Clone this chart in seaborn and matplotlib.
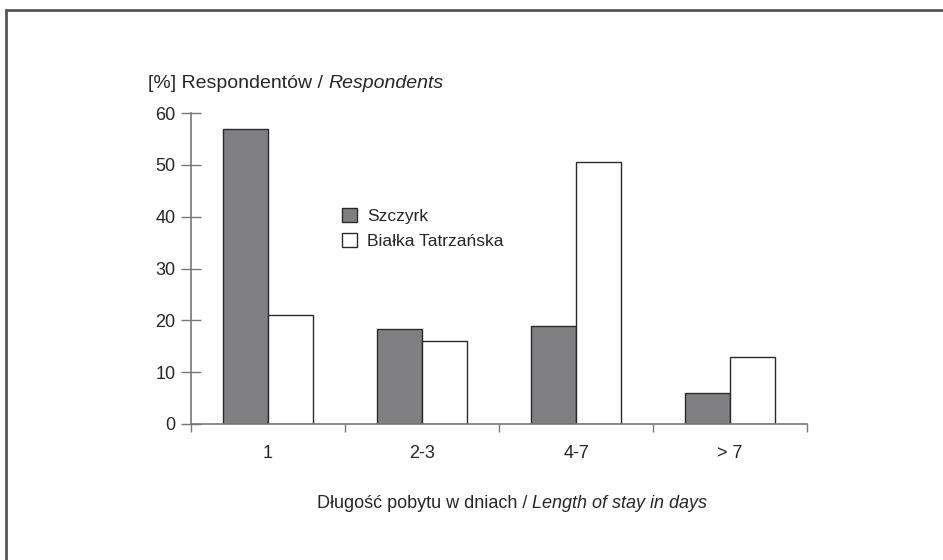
import pandas as pd
import matplotlib.pyplot as plt
import matplotlib.lines as mlines
import seaborn as sns

# data
stay = ["1", "2-3", "4-7", "> 7"]
szczyrk = [57, 18.3, 19, 6]
bialka = [21, 16, 50.5, 13]
resorts = ["Szczyrk", "Białka Tatrzańska"]

df = pd.DataFrame({
    "stay": stay * 2,
    "resort": [resorts[0]] * len(stay) + [resorts[1]] * len(stay),
    "pct": szczyrk + bialka,
})

sns.set_style("white")
plt.rcParams["font.family"] = ["Liberation Sans", "DejaVu Sans"]

W, H = 943, 560
fig = plt.figure(figsize=(W / 100, H / 100), dpi=100)
ax = fig.add_axes([191 / W, 1 - 424 / H, (807 - 191) / W, (424 - 113) / H])

sns.barplot(data=df, x="stay", y="pct", hue="resort", order=stay, hue_order=resorts,
            palette={resorts[0]: "#808083", resorts[1]: "white"},
            width=0.578, edgecolor="#2a2a2a", linewidth=1.0, ax=ax, legend=True)

ax.set_xlim(-0.5, len(stay) - 0.5)
ax.set_ylim(0, 60)
ax.set_yticks(range(0, 61, 10))
ax.tick_params(axis="y", left=True, direction="inout", length=14, width=1, color="#777777",
               labelsize=13, pad=4)
ax.tick_params(axis="x", which="major", bottom=False, length=0, labelsize=13, pad=15)
ax.set_xticks([i - 0.5 for i in range(len(stay) + 1)], minor=True)
ax.tick_params(axis="x", which="minor", bottom=True, direction="out", length=6, width=1,
               color="#777777")
for side in ["top", "right"]:
    ax.spines[side].set_visible(False)
for side in ["left", "bottom"]:
    ax.spines[side].set_color("#777777")
    ax.spines[side].set_linewidth(1.2)

ax.set_xlabel("")
ax.set_ylabel("")

# y label above the axis, mixed regular / italic
t = fig.text(148 / W, 1 - 84 / H, "[%] Respondentów / ", fontsize=14, va="center")
ax.annotate("Respondents", xy=(1, 0.5), xycoords=t, va="center", ha="left",
            fontsize=14, style="italic", annotation_clip=False)

# x label, mixed regular / italic, centred at x=512 px
xl = fig.text(0, 1 - 504 / H, "Długość pobytu w dniach / ", fontsize=13, va="center")
xr = fig.text(0, 1 - 504 / H, "Length of stay in days", fontsize=13, va="center",
              style="italic")
fig.canvas.draw()
r = fig.canvas.get_renderer()
w1 = xl.get_window_extent(r).width
w2 = xr.get_window_extent(r).width
x0 = 512 - (w1 + w2) / 2
xl.set_x(x0 / W)
xr.set_x((x0 + w1) / W)

leg = ax.legend(loc="upper left", bbox_to_anchor=(0.22, 0.745), frameon=False,
                fontsize=12.5, handlelength=0.85, handleheight=0.85, handletextpad=0.6,
                labelspacing=0.55)
for h in leg.legend_handles:
    h.set_edgecolor("#2a2a2a")
    h.set_linewidth(1.0)

# outer frame (top and left edges visible in the reference)
fig.add_artist(mlines.Line2D([6 / W, 1], [1 - 10 / H] * 2, color="#555555", lw=2,
                             transform=fig.transFigure))
fig.add_artist(mlines.Line2D([6 / W] * 2, [0, 1 - 10 / H], color="#555555", lw=2,
                             transform=fig.transFigure))

fig.savefig("out.png", dpi=100)
